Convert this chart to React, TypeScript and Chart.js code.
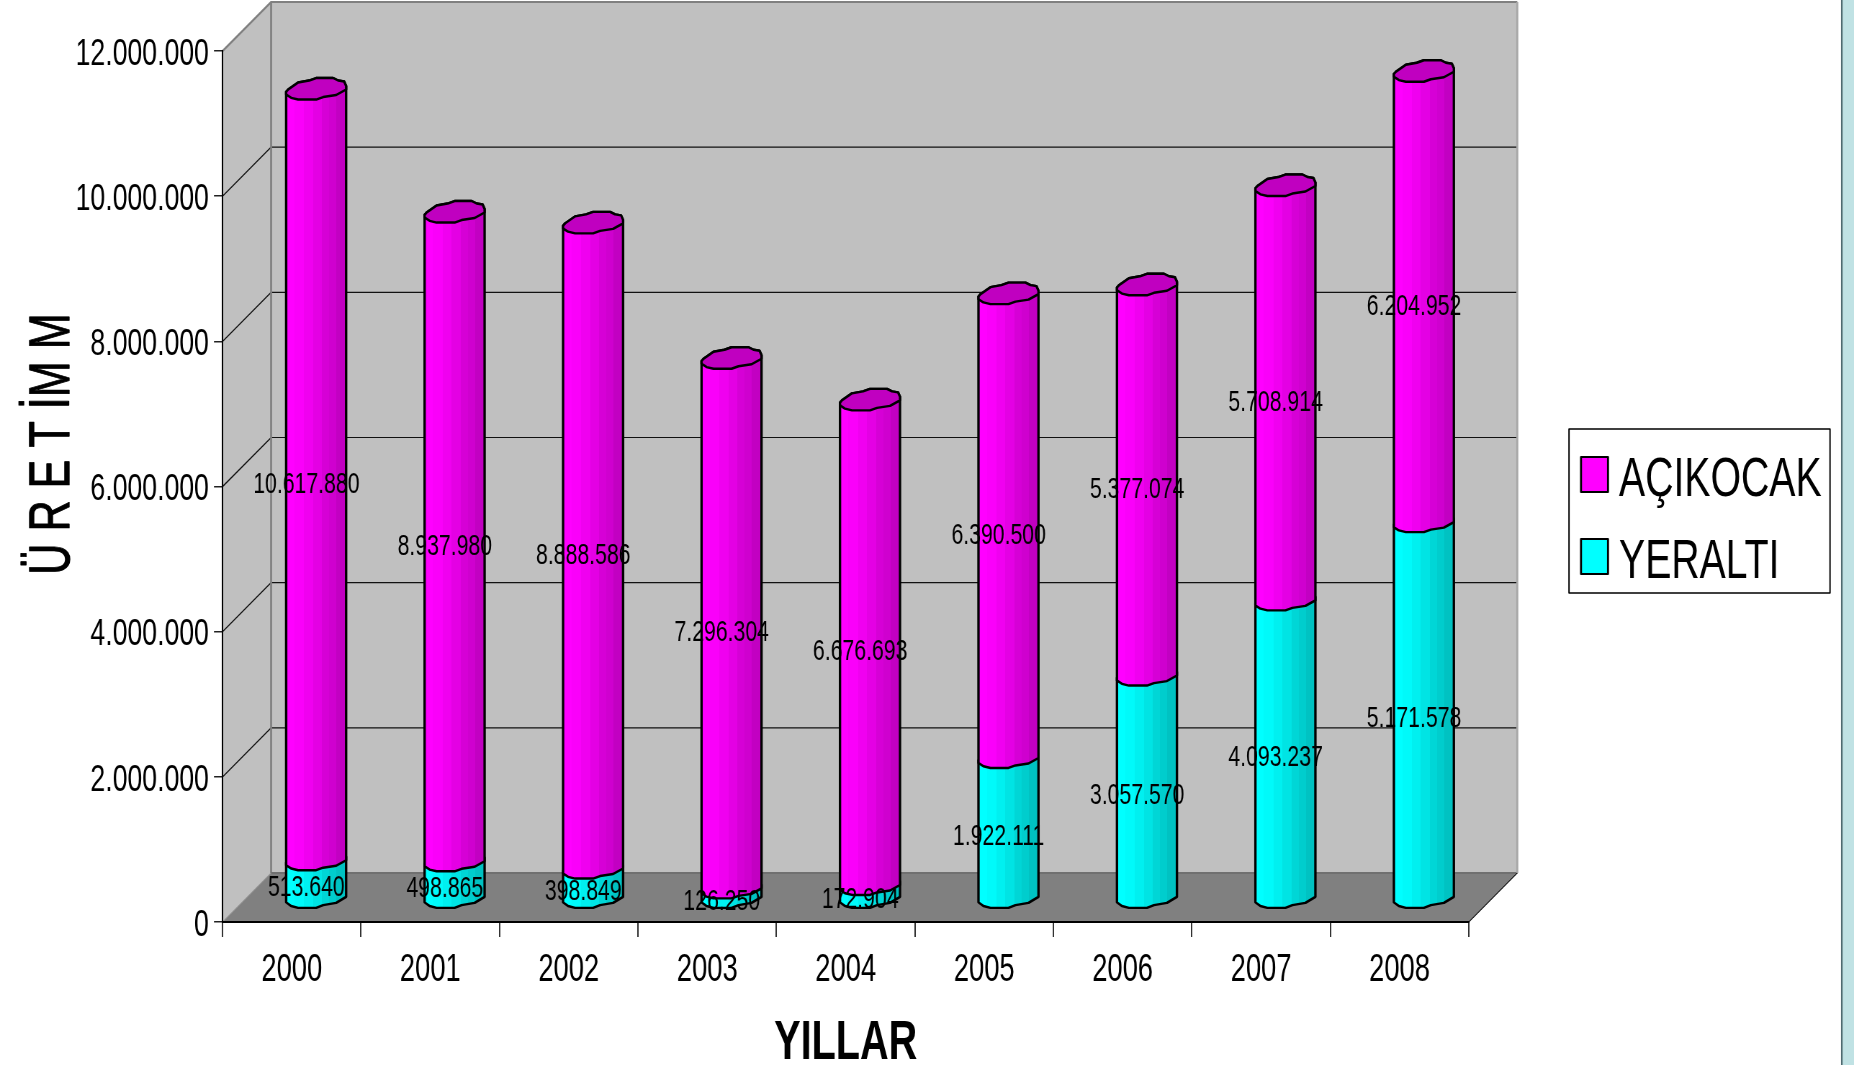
import React, { useEffect, useRef } from "react";
import { Chart, registerables } from "chart.js";

Chart.register(...registerables);

const years = ["2000", "2001", "2002", "2003", "2004", "2005", "2006", "2007", "2008"];
const yeralti = [513640, 498865, 398849, 126250, 172904, 1922111, 3057570, 4093237, 5171578];
const acikocak = [10617880, 8937980, 8888586, 7296304, 6676693, 6390500, 5377074, 5708914, 6204952];
const yTicks = [0, 2000000, 4000000, 6000000, 8000000, 10000000, 12000000];

const FONT = '"Liberation Sans", Arial, sans-serif';
const PAGE_W = 1854;
const PAGE_H = 1065;
const SQ = 0.72; // every text in the reference is horizontally condensed
const LOGICAL_W = PAGE_W / SQ;

const AXIS_L = 222.6;
const AXIS_R = 1468.8;
const AXIS_T = 51;
const AXIS_B = 922;
const DEPTH_X = 48.5;
const DEPTH_Y = 49;
const CYL_DX = 24.3;
const CYL_DY = -25.5;
const LABEL_DX = 14.5;
const LABEL_DY = -15;

// the irregular outline of a cylinder end, relative to its centre
const capUpper = [[-30, 3.3], [-28, 1], [-18, -6], [-7, -8], [0, -10.5], [17, -10.5], [22, -8], [28, -7], [30, -2.5], [30, 1]];
const capLower = [[30, 1], [20, 6.5], [7, 8.5], [0, 11], [-18, 11], [-25, 9.3], [-30, 6], [-30, 3.3]];

const fmt = (v: number) => String(v).replace(/\B(?=(\d{3})+(?!\d))/g, ".");

const palettes = [
  { bands: ["#00ffff", "#00fafa", "#00f0f0", "#00e4e4", "#00d6d6", "#00cdcd", "#00c2c2"], cap: "#00c0c0" },
  { bands: ["#ff00ff", "#fa00fa", "#f000f0", "#e400e4", "#d600d6", "#cf00cf", "#c200c2"], cap: "#c000c0" },
];
const bandEdges = [0, 0.14, 0.3, 0.45, 0.6, 0.72, 0.84, 1];

function squeezed(ctx: any, text: string, x: number, y: number, font: string, align = "left", base = "alphabetic", sq = SQ) {
  ctx.save();
  ctx.translate(x, y);
  ctx.scale(sq, 1);
  ctx.font = font;
  ctx.textAlign = align;
  ctx.textBaseline = base;
  ctx.fillStyle = "#000";
  ctx.fillText(text, 0, 0);
  ctx.restore();
}

const poly = (ctx: any, pts: number[][], fill?: string, stroke?: string, lw = 1) => {
  ctx.beginPath();
  pts.forEach((p, i) => (i ? ctx.lineTo(p[0], p[1]) : ctx.moveTo(p[0], p[1])));
  if (fill) {
    ctx.closePath();
    ctx.fillStyle = fill;
    ctx.fill();
  }
  if (stroke) {
    ctx.strokeStyle = stroke;
    ctx.lineWidth = lw;
    ctx.stroke();
  }
};

function cylinder(ctx: any, cx: number, yTop: number, yBase: number, pal: any, withCap: boolean, baseStretch: number) {
  const grad = ctx.createLinearGradient(cx - 30, 0, cx + 30, 0);
  pal.bands.forEach((c: string, i: number) => {
    grad.addColorStop(bandEdges[i], c);
    grad.addColorStop(bandEdges[i + 1], c);
  });
  const lower = capLower.map((p) => [cx + p[0], yBase + p[1] * baseStretch]);
  const upper = capUpper.map((p) => [cx + p[0], yTop + p[1]]);
  ctx.lineJoin = "round";
  poly(ctx, [...lower, ...upper], grad, undefined);
  ctx.closePath();
  ctx.strokeStyle = "#000";
  ctx.lineWidth = 2.4;
  ctx.stroke();
  if (withCap) {
    const bottom = capLower.map((p) => [cx + p[0], yTop + p[1]]);
    poly(ctx, [...upper, ...bottom], pal.cap, undefined);
    ctx.closePath();
    ctx.stroke();
  }
}

const scene3d = {
  id: "scene3d",
  beforeDraw(chart: any) {
    const { ctx, scales } = chart;
    const y = scales.y;
    ctx.save();
    ctx.scale(1 / SQ, 1);
    ctx.fillStyle = "#fff";
    ctx.fillRect(0, 0, PAGE_W, PAGE_H);
    // page edge strip
    ctx.fillStyle = "#c0e2e4";
    ctx.fillRect(1842, 0, 12, PAGE_H);
    ctx.fillStyle = "#4f6a70";
    ctx.fillRect(1841, 0, 1.6, PAGE_H);
    const bx = AXIS_L + DEPTH_X;
    const bxr = AXIS_R + DEPTH_X;
    const topY = AXIS_T - DEPTH_Y;
    const botY = AXIS_B - DEPTH_Y;
    poly(ctx, [[bx, topY], [bxr, topY], [bxr, botY], [bx, botY]], "#c0c0c0");
    poly(ctx, [[AXIS_L, AXIS_T], [bx, topY], [bx, botY], [AXIS_L, AXIS_B]], "#c0c0c0");
    poly(ctx, [[AXIS_L, AXIS_B], [bx, botY], [bxr, botY], [AXIS_R, AXIS_B]], "#808080");
    yTicks.forEach((v) => {
      if (v === 0 || v === 12000000) return;
      const py = y.getPixelForValue(v);
      poly(ctx, [[AXIS_L, py], [bx, py - DEPTH_Y], [bxr, py - DEPTH_Y]], undefined, "#111", 1.2);
    });
    poly(ctx, [[AXIS_L, AXIS_T], [bx, topY], [bxr, topY]], undefined, "#808080", 2);
    poly(ctx, [[bx, topY], [bx, botY]], undefined, "#808080", 2);
    poly(ctx, [[bx, botY], [bxr, botY]], undefined, "#707070", 2);
    poly(ctx, [[bxr, topY], [bxr, botY]], undefined, "#a8a8a8", 2);
    poly(ctx, [[AXIS_L, AXIS_B], [bx, botY]], undefined, "#909090", 1);
    poly(ctx, [[AXIS_R, AXIS_B], [bxr, botY]], undefined, "#000", 1);
    ctx.restore();
  },
  beforeDatasetDraw() {
    return false;
  },
  afterDatasetsDraw(chart: any) {
    const { ctx } = chart;
    ctx.save();
    ctx.scale(1 / SQ, 1);
    chart.data.datasets.forEach((ds: any, d: number) => {
      const meta = chart.getDatasetMeta(d);
      meta.data.forEach((el: any) => {
        cylinder(
          ctx,
          el.x * SQ + CYL_DX,
          el.y + CYL_DY,
          el.base + CYL_DY,
          palettes[d],
          d === chart.data.datasets.length - 1,
          d === 0 ? 1.1 : 1
        );
      });
    });
    chart.data.datasets.forEach((ds: any, d: number) => {
      const meta = chart.getDatasetMeta(d);
      meta.data.forEach((el: any, i: number) => {
        squeezed(ctx, fmt(ds.data[i]), el.x * SQ + LABEL_DX, (el.y + el.base) / 2 + LABEL_DY, `29.5px ${FONT}`, "center", "middle");
      });
    });
    // legend
    ctx.fillStyle = "#fff";
    ctx.fillRect(1569, 429, 261, 164);
    ctx.strokeStyle = "#000";
    ctx.lineWidth = 1.4;
    ctx.strokeRect(1569, 429, 261, 164);
    const items = [...chart.data.datasets].reverse();
    items.forEach((ds: any, i: number) => {
      const top = 457 + i * 82;
      ctx.fillStyle = ds.backgroundColor;
      ctx.fillRect(1581, top, 27, 35);
      ctx.lineWidth = 2;
      ctx.strokeRect(1581, top, 27, 35);
      squeezed(ctx, ds.label, 1619, 495.5 + i * 82, `56px ${FONT}`, "left", "alphabetic", 0.7);
    });
    // rotated value-axis title, condensed along its own direction
    ctx.save();
    ctx.translate(69, 444);
    ctx.rotate(-Math.PI / 2);
    ctx.scale(0.745, 1);
    ctx.font = `58px ${FONT}`;
    ctx.textAlign = "center";
    ctx.textBaseline = "alphabetic";
    ctx.fillStyle = "#000";
    ctx.strokeStyle = "#000";
    ctx.lineWidth = 1;
    ctx.fillText("Ü R E T İM M", 0, 0);
    ctx.strokeText("Ü R E T İM M", 0, 0);
    ctx.restore();
    ctx.restore();
  },
};

export default function App() {
  const ref = useRef<HTMLCanvasElement | null>(null);
  useEffect(() => {
    document.body.style.margin = "0";
    const chart = new Chart(ref.current as HTMLCanvasElement, {
      type: "bar",
      data: {
        labels: years,
        datasets: [
          { label: "YERALTI", data: yeralti, backgroundColor: "#00ffff", borderColor: "#000" },
          { label: "AÇIKOCAK", data: acikocak, backgroundColor: "#ff00ff", borderColor: "#000" },
        ],
      },
      options: {
        responsive: false,
        maintainAspectRatio: false,
        animation: false,
        devicePixelRatio: 1,
        layout: { padding: { left: 0, top: AXIS_T, right: LOGICAL_W - AXIS_R / SQ, bottom: 0 } },
        plugins: { legend: { display: false }, tooltip: { enabled: false } },
        datasets: { bar: { barPercentage: 0.44, categoryPercentage: 1 } },
        scales: {
          x: {
            stacked: true,
            afterFit: (s: any) => {
              s.height = PAGE_H - AXIS_B;
            },
            border: { color: "#000", width: 2 },
            grid: { drawOnChartArea: false, drawTicks: true, tickLength: 15, color: "#333", lineWidth: 2 },
            ticks: { color: "#000", font: { family: FONT, size: 38 }, padding: 10.5, maxRotation: 0, autoSkip: false },
            title: {
              display: true,
              text: "YILLAR",
              color: "#000",
              font: { family: FONT, size: 55, weight: "bold", lineHeight: 0.7 },
              padding: { top: 0, bottom: 1.5 },
            },
          },
          y: {
            stacked: true,
            min: 0,
            max: 12000000,
            afterFit: (s: any) => {
              s.width = AXIS_L / SQ;
            },
            afterBuildTicks: (s: any) => {
              s.ticks = yTicks.map((value) => ({ value }));
            },
            border: { color: "#000", width: 2 },
            grid: { drawOnChartArea: false, drawTicks: true, tickLength: 12, color: "#222", lineWidth: 1.5 },
            ticks: { color: "#000", font: { family: FONT, size: 37 }, padding: 7, labelOffset: 3.5, callback: (v: any) => fmt(v) },
          },
        },
      } as any,
      plugins: [scene3d as any],
    });
    return () => chart.destroy();
  }, []);
  return (
    <div style={{ position: "fixed", left: 0, top: 0, width: PAGE_W, height: PAGE_H, overflow: "hidden", background: "#fff" }}>
      <canvas
        ref={ref}
        width={Math.round(LOGICAL_W)}
        height={PAGE_H}
        style={{ transform: `scaleX(${SQ})`, transformOrigin: "0 0" }}
      />
    </div>
  );
}
